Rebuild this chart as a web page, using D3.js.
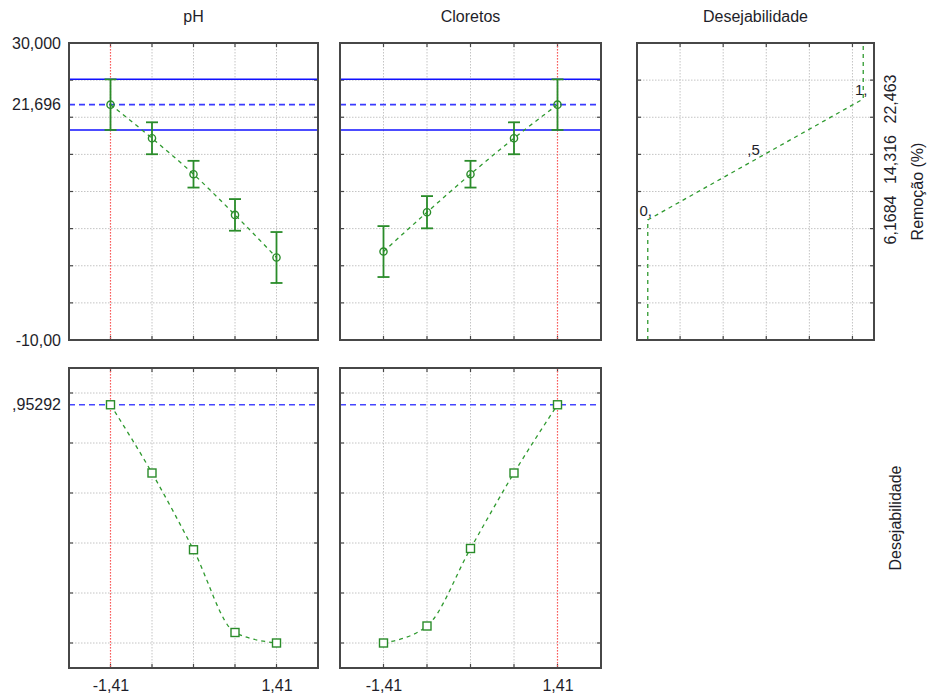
<!DOCTYPE html>
<html>
<head>
<meta charset="utf-8">
<script src="https://cdn.jsdelivr.net/npm/d3@7"></script>
<style>
  html, body { margin: 0; padding: 0; background: #fff; }
  svg { display: block; font-family: "Liberation Sans", Arial, sans-serif; }
  text { fill: #1e1e2a; }
</style>
</head>
<body>
<svg id="chart" width="928" height="699"></svg>
<script>
// Factor levels (coded) and the current setting of each factor
const factorNames = ["pH", "Cloretos"];
const levels = [-1.41, -0.705, 0, 0.705, 1.41];
const currentLevel = [-1.41, 1.41];

// Predicted removal (%) with confidence half-widths, per factor
const phRemoval = [21.696, 17.17, 12.33, 6.85, 1.11];
const phRemovalErr = [3.41, 2.15, 1.8, 2.13, 3.43];
const clRemoval = [1.91, 7.21, 12.33, 17.17, 21.696];
const clRemovalErr = [3.43, 2.17, 1.8, 2.15, 3.41];

// Predicted desirability, per factor
const phDesir = [0.95292, 0.68, 0.373, 0.042, 0.0];
const clDesir = [0.0, 0.068, 0.378, 0.68, 0.95292];

// Current prediction and its confidence band
const predictedRemoval = 21.696;
const removalBand = [18.29, 25.11];
const predictedDesir = 0.95292;

// Desirability function for removal: low / mid / high anchor points
const desirValues = [0, 0.5, 1];
const desirRemoval = [6.1684, 14.316, 22.463];
const desirPointLabels = ["0,", ",5", "1,"];

// Tick values and labels
const removalGrid = [-5, 0, 5, 10, 15, 20, 25];
const removalTickValues = [30, 21.696, -10];
const removalTickLabels = ["30,000", "21,696", "-10,00"];
const desirGrid = [0, 0.2, 0.4, 0.6, 0.8, 1.0];
const desirTickValues = [0.95292];
const desirTickLabels = [",95292"];
const levelTickValues = [-1.41, 1.41];
const levelTickLabels = ["-1,41", "1,41"];
const desirXGrid = [0.15, 0.35, 0.55, 0.75, 0.95];
const rightTickValues = [6.1684, 14.316, 22.463];
const rightTickLabels = ["6,1684", "14,316", "22,463"];

const svg = d3.select("#chart");

const GREEN = "#2a8c2a";
const GREEN_LINE = "#2f9a2f";
const BORDER = "#474747";

const topY = [43, 340];
const botY = [368, 668];
const cols = [[69, 318], [340, 601]];
const deskX = [637, 874];

const levelDomain = [-2.115, 2.115];
const yRemoval = d3.scaleLinear().domain([-10, 30]).range([topY[1], topY[0]]);
const yDesir = d3.scaleLinear().domain([-0.1, 1.1]).range([botY[1], botY[0]]);

function frame(g, x, y, xGrid, yGrid) {
  const [x0, x1] = x.range();
  const [y1, y0] = y.range();
  const grid = g.append("g");
  grid.selectAll(".gx").data(xGrid).join("line")
    .attr("x1", d => x(d)).attr("x2", d => x(d))
    .attr("y1", y0).attr("y2", y1)
    .attr("stroke", "#c4c4c4").attr("stroke-dasharray", "1.5,1.5");
  grid.selectAll(".gy").data(yGrid).join("line")
    .attr("y1", d => y(d)).attr("y2", d => y(d))
    .attr("x1", x0).attr("x2", x1)
    .attr("stroke", "#c4c4c4").attr("stroke-dasharray", "1.5,1.5");
  // inward tick marks on every side
  const tk = g.append("g").attr("stroke", BORDER).attr("stroke-width", 1.2);
  xGrid.forEach(d => {
    tk.append("line").attr("x1", x(d)).attr("x2", x(d)).attr("y1", y0).attr("y2", y0 + 4);
    tk.append("line").attr("x1", x(d)).attr("x2", x(d)).attr("y1", y1).attr("y2", y1 - 4);
  });
  yGrid.forEach(d => {
    tk.append("line").attr("y1", y(d)).attr("y2", y(d)).attr("x1", x0).attr("x2", x0 + 4);
    tk.append("line").attr("y1", y(d)).attr("y2", y(d)).attr("x1", x1).attr("x2", x1 - 4);
  });
}

function border(g, x, y) {
  const [x0, x1] = x.range();
  const [y1, y0] = y.range();
  g.append("rect").attr("x", x0).attr("y", y0)
    .attr("width", x1 - x0).attr("height", y1 - y0)
    .attr("fill", "none").attr("stroke", BORDER).attr("stroke-width", 2);
}

const curve = d3.curveMonotoneX;

[0, 1].forEach(i => {
  const x = d3.scaleLinear().domain(levelDomain).range(cols[i]);
  const removal = i === 0 ? phRemoval : clRemoval;
  const removalErr = i === 0 ? phRemovalErr : clRemovalErr;
  const desir = i === 0 ? phDesir : clDesir;

  // column title
  svg.append("text")
    .attr("x", (cols[i][0] + cols[i][1]) / 2).attr("y", 22)
    .attr("text-anchor", "middle").attr("font-size", 16)
    .text(factorNames[i]);

  // ---- removal trace ----
  const gt = svg.append("g");
  frame(gt, x, yRemoval, levels, removalGrid);

  gt.append("line")
    .attr("x1", x(currentLevel[i])).attr("x2", x(currentLevel[i]))
    .attr("y1", topY[0]).attr("y2", topY[1])
    .attr("stroke", "#ff5a5a").attr("stroke-width", 1.2).attr("stroke-dasharray", "1.5,1.5");

  removalBand.forEach(v => {
    gt.append("line").attr("x1", cols[i][0]).attr("x2", cols[i][1])
      .attr("y1", yRemoval(v)).attr("y2", yRemoval(v))
      .attr("stroke", "#1010ff").attr("stroke-width", 1.6);
  });
  gt.append("line").attr("x1", cols[i][0]).attr("x2", cols[i][1])
    .attr("y1", yRemoval(predictedRemoval)).attr("y2", yRemoval(predictedRemoval))
    .attr("stroke", "#3a3aff").attr("stroke-width", 1.6).attr("stroke-dasharray", "6,4");

  gt.append("path")
    .datum(levels.map((l, k) => [l, removal[k]]))
    .attr("fill", "none").attr("stroke", GREEN_LINE).attr("stroke-width", 1.3)
    .attr("stroke-dasharray", "4,4")
    .attr("d", d3.line().x(d => x(d[0])).y(d => yRemoval(d[1])).curve(curve));

  const eb = gt.append("g").attr("stroke", GREEN).attr("stroke-width", 1.8);
  levels.forEach((l, k) => {
    const lo = yRemoval(removal[k] - removalErr[k]);
    const hi = yRemoval(removal[k] + removalErr[k]);
    eb.append("line").attr("x1", x(l)).attr("x2", x(l)).attr("y1", lo).attr("y2", hi);
    eb.append("line").attr("x1", x(l) - 6).attr("x2", x(l) + 6).attr("y1", lo).attr("y2", lo);
    eb.append("line").attr("x1", x(l) - 6).attr("x2", x(l) + 6).attr("y1", hi).attr("y2", hi);
  });
  gt.selectAll("circle.pt").data(levels).join("circle")
    .attr("cx", d => x(d)).attr("cy", (d, k) => yRemoval(removal[k]))
    .attr("r", 3.6).attr("fill", "none").attr("stroke", GREEN).attr("stroke-width", 1.4);

  border(gt, x, yRemoval);

  // ---- desirability trace ----
  const gb = svg.append("g");
  frame(gb, x, yDesir, levels, desirGrid);

  gb.append("line")
    .attr("x1", x(currentLevel[i])).attr("x2", x(currentLevel[i]))
    .attr("y1", botY[0]).attr("y2", botY[1])
    .attr("stroke", "#ff5a5a").attr("stroke-width", 1.2).attr("stroke-dasharray", "1.5,1.5");

  gb.append("line").attr("x1", cols[i][0]).attr("x2", cols[i][1])
    .attr("y1", yDesir(predictedDesir)).attr("y2", yDesir(predictedDesir))
    .attr("stroke", "#4646ff").attr("stroke-width", 1.6).attr("stroke-dasharray", "6,4");

  gb.append("path")
    .datum(levels.map((l, k) => [l, desir[k]]))
    .attr("fill", "none").attr("stroke", GREEN_LINE).attr("stroke-width", 1.3)
    .attr("stroke-dasharray", "4,4")
    .attr("d", d3.line().x(d => x(d[0])).y(d => yDesir(d[1])).curve(curve));

  gb.selectAll("rect.pt").data(levels).join("rect")
    .attr("x", d => x(d) - 4).attr("y", (d, k) => yDesir(desir[k]) - 4)
    .attr("width", 8).attr("height", 8)
    .attr("fill", "#fff").attr("stroke", GREEN).attr("stroke-width", 1.4);

  border(gb, x, yDesir);

  // bottom level labels
  const ax = d3.axisBottom(x).tickValues(levelTickValues)
    .tickFormat((d, k) => levelTickLabels[k]).tickSize(0).tickPadding(0);
  const axg = svg.append("g").attr("transform", `translate(0,${botY[1] + 12})`).call(ax);
  axg.select(".domain").remove();
  axg.selectAll("text").attr("font-size", 16).attr("font-family", "Liberation Sans, Arial, sans-serif")
    .attr("fill", "#1e1e2a").attr("dy", "0.71em");
});

// left value labels
const la = d3.axisLeft(yRemoval).tickValues(removalTickValues)
  .tickFormat((d, k) => removalTickLabels[k]).tickSize(0).tickPadding(0);
const lag = svg.append("g").attr("transform", `translate(${cols[0][0] - 8},0)`).call(la);
lag.select(".domain").remove();
lag.selectAll("text").attr("font-size", 16).attr("font-family", "Liberation Sans, Arial, sans-serif").attr("fill", "#1e1e2a");

const lb = d3.axisLeft(yDesir).tickValues(desirTickValues)
  .tickFormat((d, k) => desirTickLabels[k]).tickSize(0).tickPadding(0);
const lbg = svg.append("g").attr("transform", `translate(${cols[0][0] - 8},0)`).call(lb);
lbg.select(".domain").remove();
lbg.selectAll("text").attr("font-size", 16).attr("font-family", "Liberation Sans, Arial, sans-serif").attr("fill", "#1e1e2a");

// ---- desirability function panel ----
const xd = d3.scaleLinear().domain([-0.05, 1.05]).range(deskX);
svg.append("text")
  .attr("x", (deskX[0] + deskX[1]) / 2).attr("y", 22)
  .attr("text-anchor", "middle").attr("font-size", 16)
  .text("Desejabilidade");

const gd = svg.append("g");
frame(gd, xd, yRemoval, desirXGrid, removalGrid);

const fnPoints = [[0, -10]].concat(desirValues.map((d, k) => [d, desirRemoval[k]]), [[1, 30]]);
gd.append("path")
  .datum(fnPoints)
  .attr("fill", "none").attr("stroke", GREEN_LINE).attr("stroke-width", 1.3)
  .attr("stroke-dasharray", "4,4")
  .attr("d", d3.line().x(d => xd(d[0])).y(d => yRemoval(d[1])));

gd.selectAll("text.pl").data(desirValues).join("text")
  .attr("x", d => xd(d) - 2).attr("y", (d, k) => yRemoval(desirRemoval[k]) - 4)
  .attr("text-anchor", "middle").attr("font-size", 15)
  .text((d, k) => desirPointLabels[k]);

border(gd, xd, yRemoval);

// right-hand rotated value labels
rightTickValues.forEach((v, k) => {
  svg.append("text")
    .attr("transform", `translate(${deskX[1] + 16},${yRemoval(v)}) rotate(-90)`)
    .attr("text-anchor", "middle").attr("dy", "0.35em").attr("font-size", 16)
    .text(rightTickLabels[k]);
});
svg.append("text")
  .attr("transform", `translate(${deskX[1] + 43},${(topY[0] + topY[1]) / 2}) rotate(-90)`)
  .attr("text-anchor", "middle").attr("dy", "0.35em").attr("font-size", 16)
  .text("Remoção (%)");
svg.append("text")
  .attr("transform", `translate(${deskX[1] + 21},${(botY[0] + botY[1]) / 2}) rotate(-90)`)
  .attr("text-anchor", "middle").attr("dy", "0.35em").attr("font-size", 16)
  .text("Desejabilidade");
</script>
</body>
</html>
